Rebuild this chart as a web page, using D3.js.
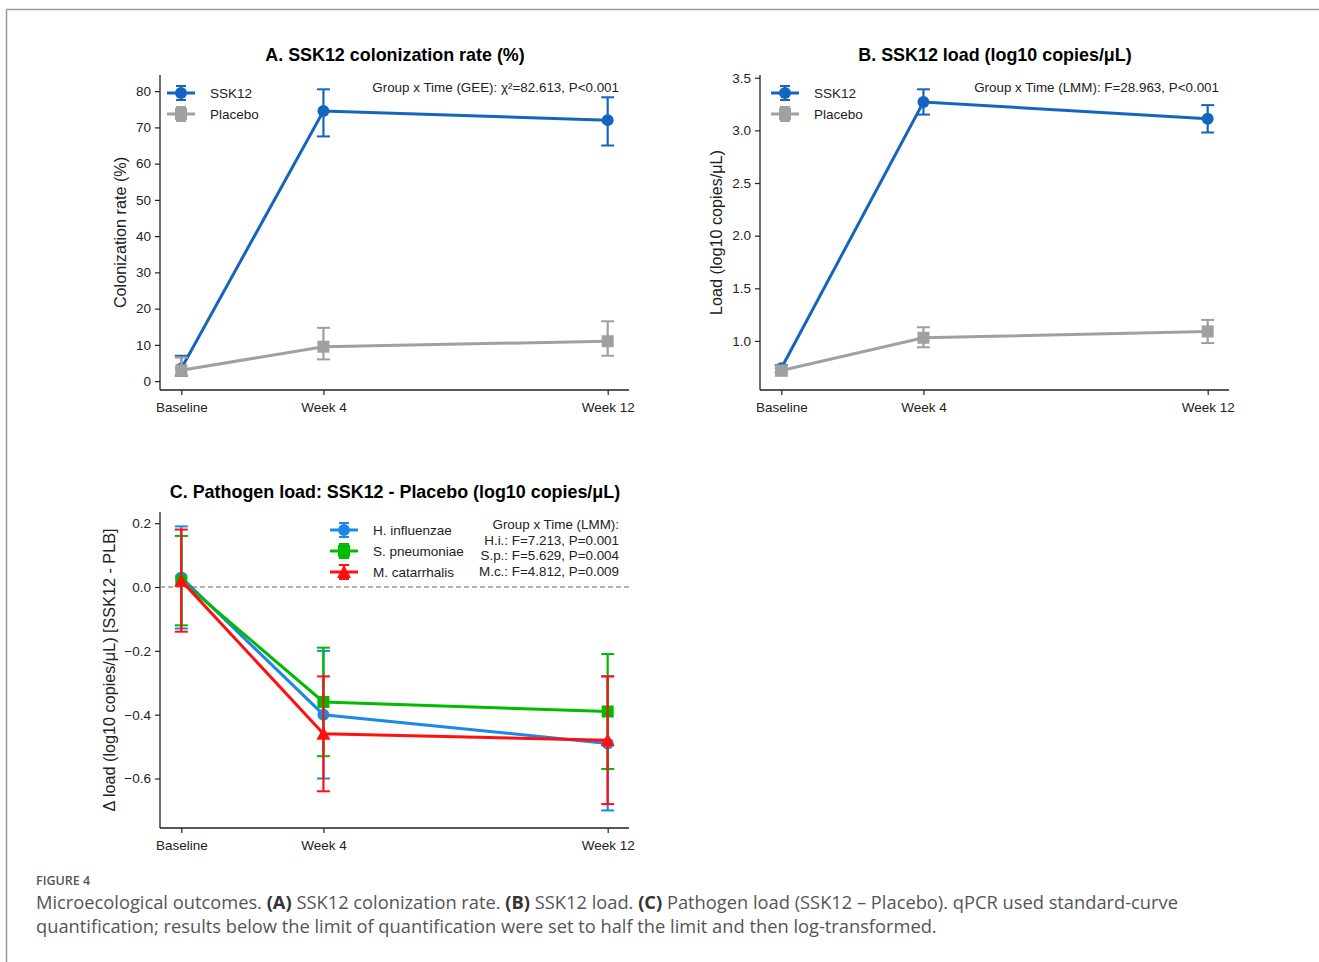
<!DOCTYPE html>
<html>
<head>
<meta charset="utf-8">
<script src="https://cdn.jsdelivr.net/npm/d3@7"></script>
<style>
  body { margin: 0; background: #fff; }
  svg { display: block; }
  text { font-family: "Liberation Sans", Arial, sans-serif; }
  .caption { font-family: "Open Sans", sans-serif; }
</style>
</head>
<body>
<main></main>
<script>
// データ
const weeks = [0, 4, 12];
const weekLabels = ["Baseline", "Week 4", "Week 12"];

// A: colonization rate (%)
const colSSK12 = [3.5, 74.5, 72.0];
const colSSK12Lo = [1.5, 67.5, 65.0];
const colSSK12Hi = [7.0, 80.5, 78.3];
const colPlacebo = [3.0, 9.5, 11.0];
const colPlaceboLo = [1.5, 6.0, 7.0];
const colPlaceboHi = [6.5, 14.7, 16.5];

// B: SSK12 load
const loadSSK12 = [0.74, 3.27, 3.11];
const loadSSK12Lo = [0.70, 3.15, 2.98];
const loadSSK12Hi = [0.77, 3.39, 3.24];
const loadPlacebo = [0.72, 1.03, 1.09];
const loadPlaceboLo = [0.67, 0.94, 0.98];
const loadPlaceboHi = [0.76, 1.13, 1.20];

// C: pathogen load difference
const hiVals = [0.03, -0.40, -0.49];
const hiLo = [-0.13, -0.60, -0.70];
const hiHi = [0.19, -0.20, -0.28];
const spVals = [0.02, -0.36, -0.39];
const spLo = [-0.12, -0.53, -0.57];
const spHi = [0.16, -0.19, -0.21];
const mcVals = [0.02, -0.46, -0.48];
const mcLo = [-0.14, -0.64, -0.68];
const mcHi = [0.18, -0.28, -0.28];

const yTicksA = [0, 10, 20, 30, 40, 50, 60, 70, 80];
const yTicksB = [1.0, 1.5, 2.0, 2.5, 3.0, 3.5];
const yTicksC = [0.2, 0.0, -0.2, -0.4, -0.6];

const BLUE = "#1565c0", GRAY = "#a0a0a0";
const HI = "#1e88e5", SP = "#00bb00", MC = "#ff1010";

const width = 1319, height = 962;
const svg = d3.select("main").append("svg")
    .attr("width", width)
    .attr("height", height);

// 枠線
svg.append("line").attr("x1", 6.5).attr("x2", width).attr("y1", 9.5).attr("y2", 9.5)
    .attr("stroke", "#999").attr("stroke-width", 1.5);
svg.append("line").attr("x1", 6.5).attr("x2", 6.5).attr("y1", 9.5).attr("y2", height)
    .attr("stroke", "#999").attr("stroke-width", 1.5);

function makeSeries(vals, lo, hi, color, shape, label) {
    const points = weeks.map((w, i) => ({ w, v: vals[i], lo: lo[i], hi: hi[i] }));
    return { color, shape, label, points };
}

function marker(g, shape, color, x, y) {
    if (shape === "circle") {
        g.append("circle").attr("cx", x).attr("cy", y).attr("r", 6).attr("fill", color);
    } else if (shape === "square") {
        g.append("rect").attr("x", x - 6).attr("y", y - 6).attr("width", 12).attr("height", 12).attr("fill", color);
    } else {
        g.append("path").attr("d", `M${x},${y - 7}L${x + 7},${y + 6}L${x - 7},${y + 6}Z`).attr("fill", color);
    }
}

// パネル描画
function panel(opt) {
    const g = svg.append("g");
    const x = d3.scaleLinear().domain([-0.6, 12.6]).range([opt.left, opt.left + 469]);
    const y = d3.scaleLinear().domain(opt.yDomain).range([opt.bottom, opt.bottom - opt.h]);

    // タイトル
    g.append("text").attr("x", opt.left + 235).attr("y", opt.bottom - opt.h - 14)
        .attr("text-anchor", "middle").attr("font-size", 17.9).attr("font-weight", "bold")
        .text(opt.title);

    // 軸
    const yAxis = g.append("g").attr("transform", `translate(${opt.left},0)`)
        .call(d3.axisLeft(y).tickValues(opt.yTicks).tickSize(5).tickPadding(4).tickFormat(opt.fmt));
    const xAxis = g.append("g").attr("transform", `translate(0,${opt.bottom})`)
        .call(d3.axisBottom(x).tickValues(weeks).tickSize(5).tickPadding(7)
            .tickFormat((d, i) => weekLabels[i]));
    [yAxis, xAxis].forEach(a => {
        a.select(".domain").attr("stroke", "#222").attr("stroke-width", 1.3);
        a.selectAll(".tick line").attr("stroke", "#222").attr("stroke-width", 1.2);
        a.selectAll(".tick text").attr("font-size", 13.5).attr("fill", "#222")
            .style("font-family", "'Liberation Sans', Arial, sans-serif");
    });
    // 軸の端のフラグを消す
    yAxis.select(".domain").attr("d", `M0,${opt.bottom}V${opt.bottom - opt.h}`);
    xAxis.select(".domain").attr("d", `M${opt.left},0H${opt.left + 469}`);

    g.append("text")
        .attr("transform", `translate(${opt.left - opt.ylabelOff},${opt.bottom - opt.h / 2}) rotate(-90)`)
        .attr("text-anchor", "middle").attr("font-size", 16.2).attr("fill", "#222")
        .text(opt.ylabel);

    if (opt.zeroLine) {
        g.append("line").attr("x1", opt.left).attr("x2", opt.left + 469)
            .attr("y1", y(0)).attr("y2", y(0))
            .attr("stroke", "#999").attr("stroke-width", 1.3).attr("stroke-dasharray", "5,3");
    }

    const line = d3.line().x(d => x(d.w)).y(d => y(d.v));
    opt.series.forEach(s => {
        const sg = g.append("g");
        sg.append("path").datum(s.points).attr("d", line)
            .attr("fill", "none").attr("stroke", s.color).attr("stroke-width", 3);
        s.points.forEach(p => {
            sg.append("line").attr("x1", x(p.w)).attr("x2", x(p.w)).attr("y1", y(p.lo)).attr("y2", y(p.hi))
                .attr("stroke", s.color).attr("stroke-width", 2.2);
            [p.lo, p.hi].forEach(c => sg.append("line")
                .attr("x1", x(p.w) - 6.5).attr("x2", x(p.w) + 6.5).attr("y1", y(c)).attr("y2", y(c))
                .attr("stroke", s.color).attr("stroke-width", 2));
            marker(sg, s.shape, s.color, x(p.w), y(p.v));
        });
    });

    // 凡例
    opt.series.forEach((s, i) => {
        const lx = opt.legendX, ly = opt.legendY + i * 21;
        const lg = g.append("g");
        lg.append("line").attr("x1", lx).attr("x2", lx + 28).attr("y1", ly).attr("y2", ly)
            .attr("stroke", s.color).attr("stroke-width", 3);
        lg.append("line").attr("x1", lx + 14).attr("x2", lx + 14).attr("y1", ly - 7).attr("y2", ly + 7)
            .attr("stroke", s.color).attr("stroke-width", 2);
        [-7, 7].forEach(dy => lg.append("line").attr("x1", lx + 9).attr("x2", lx + 19)
            .attr("y1", ly + dy).attr("y2", ly + dy).attr("stroke", s.color).attr("stroke-width", 2));
        marker(lg, s.shape, s.color, lx + 14, ly);
        lg.append("text").attr("x", lx + 43).attr("y", ly + 5).attr("font-size", 13.5).attr("fill", "#222")
            .text(s.label);
    });

    // 注記
    opt.note.forEach((t, i) => {
        g.append("text").attr("x", opt.left + 459).attr("y", opt.noteY + i * 15.5)
            .attr("text-anchor", "end").attr("font-size", 13.4).attr("fill", "#222").text(t);
    });
}

panel({
    left: 160, bottom: 390, h: 315, yDomain: [-2.45, 84.45], yTicks: yTicksA, fmt: d3.format("d"),
    title: "A. SSK12 colonization rate (%)", ylabel: "Colonization rate (%)", ylabelOff: 34,
    legendX: 167, legendY: 93, noteY: 92,
    note: ["Group x Time (GEE): χ²=82.613, P<0.001"],
    series: [
        makeSeries(colSSK12, colSSK12Lo, colSSK12Hi, BLUE, "circle", "SSK12"),
        makeSeries(colPlacebo, colPlaceboLo, colPlaceboHi, GRAY, "square", "Placebo")
    ]
});

panel({
    left: 760, bottom: 390, h: 315, yDomain: [0.534, 3.526], yTicks: yTicksB, fmt: d3.format(".1f"),
    title: "B. SSK12 load (log10 copies/μL)", ylabel: "Load (log10 copies/μL)", ylabelOff: 38,
    legendX: 771, legendY: 93, noteY: 92,
    note: ["Group x Time (LMM): F=28.963, P<0.001"],
    series: [
        makeSeries(loadSSK12, loadSSK12Lo, loadSSK12Hi, BLUE, "circle", "SSK12"),
        makeSeries(loadPlacebo, loadPlaceboLo, loadPlaceboHi, GRAY, "square", "Placebo")
    ]
});

panel({
    left: 160, bottom: 828, h: 316, yDomain: [-0.755, 0.235], yTicks: yTicksC,
    fmt: d => d3.format(".1f")(d).replace("-", "−"),
    title: "C. Pathogen load: SSK12 - Placebo (log10 copies/μL)",
    ylabel: "Δ load (log10 copies/μL) [SSK12 - PLB]", ylabelOff: 45,
    legendX: 330, legendY: 530, noteY: 529, zeroLine: true,
    note: ["Group x Time (LMM):", "H.i.: F=7.213, P=0.001", "S.p.: F=5.629, P=0.004", "M.c.: F=4.812, P=0.009"],
    series: [
        makeSeries(hiVals, hiLo, hiHi, HI, "circle", "H. influenzae"),
        makeSeries(spVals, spLo, spHi, SP, "square", "S. pneumoniae"),
        makeSeries(mcVals, mcLo, mcHi, MC, "triangle", "M. catarrhalis")
    ]
});

// キャプション
const cap = svg.append("g").attr("class", "caption");
cap.append("text").attr("x", 36).attr("y", 885).attr("font-size", 12.5).attr("font-weight", 600)
    .attr("fill", "#555").style("font-family", "'Open Sans', sans-serif").text("FIGURE 4");
const lines = [
    [["Microecological outcomes. ", false], ["(A)", true], [" SSK12 colonization rate. ", false], ["(B)", true],
     [" SSK12 load. ", false], ["(C)", true], [" Pathogen load (SSK12 – Placebo). qPCR used standard-curve", false]],
    [["quantification; results below the limit of quantification were set to half the limit and then log-transformed.", false]]
];
lines.forEach((parts, i) => {
    const t = cap.append("text").attr("x", 36).attr("y", 909 + i * 24).attr("font-size", 18.3)
        .attr("fill", "#555").style("font-family", "'Open Sans', sans-serif");
    parts.forEach(([s, b]) => t.append("tspan").attr("font-weight", b ? 700 : 400)
        .attr("fill", b ? "#333" : "#555").text(s));
});
</script>
</body>
</html>
